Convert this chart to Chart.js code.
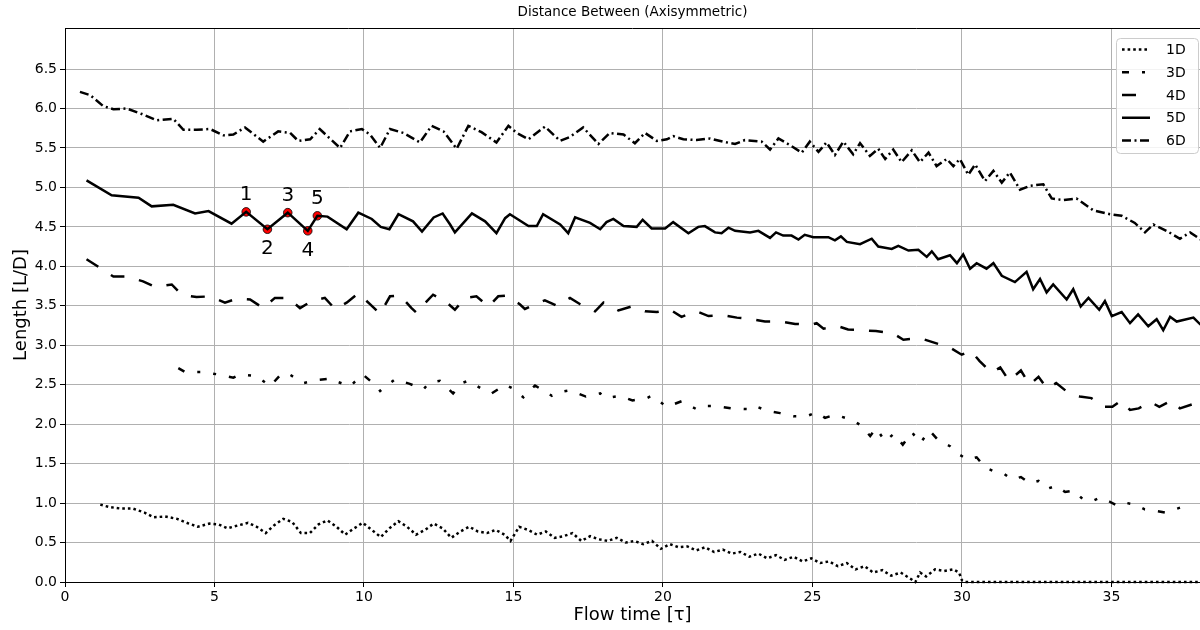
<!DOCTYPE html>
<html><head><meta charset="utf-8">
<script src="https://cdn.jsdelivr.net/npm/chart.js@4.4.1/dist/chart.umd.min.js"></script>
<style>html,body{margin:0;padding:0;background:#fff;overflow:hidden}canvas{display:block}</style>
</head><body>
<canvas id="c" width="1200" height="630"></canvas>
<script>
// ---------- data (time [tau], length [L/D]) ----------
const seriesLabels = ['1D', '3D', '4D', '5D', '6D'];
const xTicks = [0, 5, 10, 15, 20, 25, 30, 35];
const yTicks = [0, 0.5, 1, 1.5, 2, 2.5, 3, 3.5, 4, 4.5, 5, 5.5, 6, 6.5];

const d1D = [[1.18,0.98],[1.48,0.95],[1.87,0.93],[2.27,0.93],[2.66,0.88],[2.96,0.82],[3.35,0.83],[3.75,0.80],[4.14,0.74],[4.44,0.70],[4.83,0.74],[5.13,0.73],[5.43,0.68],[5.82,0.72],[6.12,0.75],[6.41,0.70],[6.71,0.62],[7.0,0.72],[7.30,0.80],[7.60,0.76],[7.89,0.62],[8.19,0.62],[8.48,0.73],[8.78,0.78],[9.08,0.70],[9.37,0.60],[9.67,0.68],[9.96,0.75],[10.26,0.66],[10.56,0.57],[10.85,0.68],[11.15,0.77],[11.44,0.70],[11.74,0.60],[12.04,0.66],[12.33,0.74],[12.63,0.68],[12.92,0.56],[13.22,0.64],[13.52,0.70],[13.81,0.64],[14.11,0.62],[14.40,0.66],[14.70,0.60],[14.90,0.52],[15.19,0.70],[15.49,0.66],[15.79,0.60],[16.08,0.64],[16.38,0.56],[16.67,0.58],[16.97,0.62],[17.27,0.52],[17.56,0.58],[17.86,0.54],[18.15,0.52],[18.45,0.56],[18.75,0.50],[19.04,0.52],[19.34,0.48],[19.63,0.52],[19.93,0.42],[20.23,0.48],[20.52,0.44],[20.82,0.45],[21.11,0.40],[21.41,0.44],[21.71,0.38],[22.00,0.41],[22.30,0.36],[22.59,0.38],[22.89,0.32],[23.19,0.36],[23.48,0.30],[23.78,0.34],[24.07,0.28],[24.37,0.32],[24.67,0.26],[24.96,0.30],[25.26,0.24],[25.55,0.26],[25.85,0.20],[26.15,0.24],[26.44,0.16],[26.74,0.20],[27.03,0.12],[27.33,0.15],[27.63,0.08],[27.95,0.12],[28.2,0.06],[28.44,0.0],[28.6,0.12],[28.8,0.07],[29.1,0.16],[29.4,0.14],[29.7,0.16],[29.9,0.12],[30.0,0.02],[30.1,0.0],[37.98,0.0]];

const d3D = [[3.79,2.71],[4.02,2.66],[4.57,2.66],[5.13,2.63],[5.63,2.59],[5.85,2.63],[6.41,2.61],[6.86,2.48],[7.24,2.64],[7.47,2.64],[7.97,2.52],[8.42,2.56],[8.92,2.58],[9.09,2.54],[9.53,2.48],[9.96,2.63],[10.42,2.48],[10.54,2.42],[11.04,2.57],[11.53,2.51],[11.99,2.44],[12.16,2.52],[12.54,2.55],[12.98,2.39],[13.27,2.52],[13.49,2.55],[13.93,2.45],[14.27,2.39],[14.72,2.50],[14.94,2.46],[15.33,2.34],[15.72,2.49],[16.28,2.36],[16.45,2.40],[16.89,2.43],[17.42,2.35],[17.90,2.39],[18.07,2.33],[18.56,2.36],[18.98,2.30],[19.46,2.33],[19.62,2.36],[20.13,2.22],[20.62,2.29],[21.12,2.19],[21.35,2.23],[21.79,2.23],[22.30,2.20],[22.91,2.19],[23.08,2.23],[23.47,2.17],[23.92,2.14],[24.36,2.10],[24.80,2.10],[25.14,2.15],[25.42,2.08],[25.75,2.12],[26.09,2.08],[26.34,2.05],[26.64,1.98],[26.93,1.85],[27.13,1.95],[27.43,1.78],[27.72,1.88],[28.02,1.74],[28.32,1.90],[28.61,1.76],[28.91,1.92],[29.20,1.80],[29.60,1.72],[29.89,1.62],[30.19,1.55],[30.49,1.58],[30.78,1.45],[31.08,1.40],[31.37,1.38],[31.67,1.30],[31.97,1.33],[32.26,1.25],[32.56,1.28],[32.85,1.18],[33.15,1.22],[33.45,1.14],[33.74,1.16],[34.04,1.05],[34.33,1.02],[34.63,1.07],[34.93,1.02],[35.22,0.96],[35.52,1.00],[35.81,0.98],[36.11,0.92],[36.51,0.90],[36.80,0.88],[37.20,0.93],[37.59,0.98]];

const d4D = [[0.72,4.09],[1.17,3.98],[1.62,3.87],[2.06,3.87],[2.61,3.81],[3.01,3.74],[3.57,3.77],[3.90,3.64],[4.40,3.61],[4.85,3.62],[5.35,3.54],[5.74,3.59],[6.19,3.58],[6.63,3.47],[7.02,3.60],[7.47,3.60],[7.86,3.47],[8.25,3.56],[8.69,3.60],[9.03,3.46],[9.42,3.54],[9.81,3.66],[10.20,3.52],[10.54,3.40],[10.87,3.62],[11.21,3.63],[11.59,3.47],[11.76,3.41],[11.93,3.49],[12.31,3.64],[12.71,3.56],[13.04,3.45],[13.38,3.60],[13.76,3.62],[14.16,3.49],[14.49,3.62],[14.77,3.63],[15.21,3.52],[15.38,3.46],[15.61,3.50],[16.05,3.57],[16.45,3.50],[16.89,3.60],[17.23,3.52],[17.73,3.43],[18.01,3.54],[18.51,3.44],[18.94,3.49],[19.40,3.43],[19.79,3.42],[20.24,3.45],[20.62,3.36],[21.12,3.43],[21.52,3.37],[22.01,3.38],[22.47,3.35],[22.97,3.33],[23.41,3.30],[23.97,3.30],[24.42,3.27],[24.97,3.26],[25.14,3.28],[25.37,3.21],[25.87,3.24],[26.19,3.20],[26.68,3.19],[27.12,3.18],[27.70,3.15],[28.04,3.07],[28.59,3.09],[29.26,3.01],[29.60,2.97],[29.99,2.88],[30.29,2.93],[30.59,2.80],[30.98,2.65],[31.28,2.72],[31.57,2.55],[31.97,2.68],[32.26,2.50],[32.56,2.60],[32.85,2.45],[33.15,2.52],[33.55,2.40],[33.94,2.35],[34.33,2.33],[34.73,2.22],[35.03,2.22],[35.32,2.30],[35.62,2.18],[35.91,2.20],[36.31,2.28],[36.60,2.22],[37.00,2.30],[37.29,2.20],[37.69,2.25],[37.98,2.20]];

const d5D = [[0.72,5.09],[1.56,4.90],[2.46,4.87],[2.90,4.76],[3.62,4.78],[4.35,4.67],[4.80,4.70],[5.57,4.54],[6.06,4.69],[6.77,4.47],[7.45,4.68],[8.12,4.45],[8.44,4.64],[8.78,4.63],[9.42,4.47],[9.81,4.68],[10.26,4.60],[10.56,4.50],[10.85,4.47],[11.15,4.66],[11.64,4.57],[11.94,4.44],[12.33,4.62],[12.63,4.67],[12.88,4.53],[13.04,4.43],[13.61,4.67],[14.05,4.57],[14.43,4.42],[14.72,4.61],[14.88,4.66],[15.50,4.51],[15.78,4.51],[15.99,4.66],[16.56,4.53],[16.83,4.42],[17.06,4.62],[17.56,4.55],[17.90,4.47],[18.11,4.56],[18.34,4.60],[18.68,4.51],[19.12,4.50],[19.32,4.59],[19.62,4.48],[20.07,4.48],[20.34,4.56],[20.85,4.42],[21.18,4.50],[21.40,4.51],[21.74,4.43],[21.96,4.42],[22.19,4.49],[22.41,4.45],[22.91,4.43],[23.19,4.45],[23.58,4.36],[23.78,4.43],[24.02,4.39],[24.30,4.39],[24.53,4.34],[24.74,4.40],[25.03,4.37],[25.53,4.37],[25.75,4.33],[25.95,4.38],[26.15,4.31],[26.59,4.28],[26.98,4.35],[27.20,4.25],[27.65,4.22],[27.87,4.26],[28.21,4.20],[28.54,4.21],[28.82,4.12],[28.99,4.19],[29.20,4.09],[29.60,4.14],[29.83,4.04],[30.04,4.15],[30.27,3.97],[30.49,4.04],[30.82,3.97],[31.05,4.04],[31.33,3.88],[31.77,3.80],[32.16,3.93],[32.38,3.71],[32.61,3.84],[32.83,3.67],[33.05,3.77],[33.50,3.58],[33.72,3.71],[33.97,3.49],[34.23,3.60],[34.59,3.45],[34.78,3.56],[35.01,3.37],[35.34,3.42],[35.62,3.28],[35.89,3.39],[36.23,3.24],[36.51,3.33],[36.73,3.19],[36.96,3.36],[37.18,3.30],[37.74,3.35],[37.98,3.26]];

const d6D = [[0.50,6.21],[0.84,6.17],[1.28,6.03],[1.62,5.99],[2.06,6.0],[2.57,5.93],[3.07,5.85],[3.62,5.87],[3.96,5.73],[4.40,5.73],[4.85,5.74],[5.30,5.66],[5.63,5.67],[6.02,5.76],[6.63,5.58],[7.13,5.71],[7.53,5.69],[7.80,5.59],[8.20,5.61],[8.52,5.74],[9.20,5.50],[9.53,5.71],[9.93,5.74],[10.20,5.67],[10.54,5.50],[10.87,5.74],[11.32,5.69],[11.87,5.57],[12.26,5.78],[12.66,5.71],[13.10,5.49],[13.49,5.78],[13.93,5.70],[14.43,5.57],[14.83,5.78],[15.11,5.69],[15.50,5.61],[16.05,5.77],[16.56,5.59],[16.89,5.64],[17.33,5.76],[17.84,5.55],[18.22,5.69],[18.68,5.67],[19.06,5.56],[19.40,5.69],[19.79,5.59],[20.13,5.61],[20.34,5.65],[20.68,5.61],[21.12,5.60],[21.57,5.62],[22.00,5.58],[22.41,5.55],[22.74,5.60],[23.30,5.58],[23.58,5.48],[23.86,5.62],[24.27,5.53],[24.64,5.44],[24.91,5.58],[25.20,5.45],[25.47,5.57],[25.75,5.41],[26.03,5.58],[26.36,5.42],[26.59,5.56],[26.92,5.40],[27.20,5.49],[27.43,5.36],[27.70,5.48],[27.98,5.32],[28.32,5.47],[28.59,5.32],[28.88,5.44],[29.15,5.27],[29.49,5.36],[29.71,5.27],[29.93,5.36],[30.21,5.16],[30.44,5.29],[30.77,5.08],[31.05,5.21],[31.33,5.06],[31.60,5.19],[31.94,4.97],[32.27,5.02],[32.72,5.04],[33.00,4.86],[33.39,4.84],[33.83,4.86],[34.39,4.71],[34.95,4.66],[35.34,4.64],[35.78,4.55],[36.12,4.43],[36.40,4.53],[36.84,4.45],[37.29,4.35],[37.63,4.43],[37.98,4.34]];

// marked points on the 5D curve (indices into d5D) and their labels
const markerIndex = [8, 9, 10, 11, 12];
const markerLabels = ['1', '2', '3', '4', '5'];

// ---------- chart ----------
const FONT = '"DejaVu Sans", sans-serif';
Chart.defaults.font.family = FONT;
Chart.defaults.color = '#000';

const toXY = arr => arr.map(p => ({x: p[0], y: p[1]}));
const seriesData = [d1D, d3D, d4D, d5D, d6D];
const dashes = [[2.6, 3], [7, 13, 3, 13, 3, 13], [14, 15], [], [9, 3.5, 2, 3.5]];

const datasets = seriesData.map((d, i) => ({
  label: seriesLabels[i],
  data: toXY(d),
  borderColor: '#000',
  borderWidth: 2.5,
  borderDash: dashes[i],
  borderCapStyle: 'butt',
  borderJoinStyle: 'miter',
  pointRadius: 0,
  tension: 0,
  fill: false,
  clip: 4,
  inLegend: true
}));
datasets.push({
  label: 'markers',
  data: markerIndex.map(k => ({x: d5D[k][0], y: d5D[k][1]})),
  showLine: false,
  pointRadius: 4.3,
  pointHoverRadius: 4.3,
  pointBackgroundColor: '#ff0000',
  pointBorderColor: '#000',
  pointBorderWidth: 0.8,
  inLegend: false,
  clip: false
});

const frameLegendPlugin = {
  id: 'frameLegend',
  afterDatasetsDraw(chart) {
    const {ctx, chartArea: a} = chart;
    ctx.save();
    // top spine
    ctx.strokeStyle = '#000'; ctx.lineWidth = 1;
    ctx.beginPath(); ctx.moveTo(a.left, a.top + 0.5); ctx.lineTo(a.right, a.top + 0.5); ctx.stroke();
    // marker labels
    const meta = chart.getDatasetMeta(5);
    ctx.font = '20px ' + FONT; ctx.fillStyle = '#000';
    ctx.textAlign = 'center'; ctx.textBaseline = 'middle';
    meta.data.forEach((el, i) => {
      const off = (i % 2 === 0) ? -17 : 20;
      ctx.fillText(markerLabels[i], el.x, el.y + off);
    });
    // legend
    const w = 82, h = 115;
    const x0 = a.right - 84, y0 = a.top + 10;
    ctx.fillStyle = 'rgba(255,255,255,0.85)';
    ctx.strokeStyle = '#cccccc'; ctx.lineWidth = 1;
    ctx.beginPath();
    if (ctx.roundRect) ctx.roundRect(x0 + 0.5, y0 + 0.5, w, h, 4); else ctx.rect(x0 + 0.5, y0 + 0.5, w, h);
    ctx.fill(); ctx.stroke();
    ctx.font = '14px ' + FONT; ctx.textAlign = 'left';
    chart.data.datasets.filter(d => d.inLegend).forEach((ds, i) => {
      const y = y0 + 11.5 + i * 22.75;
      ctx.setLineDash(ds.borderDash); ctx.lineCap = 'butt';
      ctx.strokeStyle = ds.borderColor; ctx.lineWidth = ds.borderWidth;
      ctx.beginPath(); ctx.moveTo(x0 + 6, y); ctx.lineTo(x0 + 34, y); ctx.stroke();
      ctx.setLineDash([]);
      ctx.fillStyle = '#000';
      ctx.fillText(ds.label, x0 + 50, y + 1);
    });
    ctx.restore();
  }
};

new Chart(document.getElementById('c'), {
  type: 'line',
  data: {datasets},
  options: {
    responsive: false,
    animation: false,
    devicePixelRatio: 1,
    events: [],
    layout: {autoPadding: false, padding: {left: 0, right: 0, top: 0, bottom: 0}},
    plugins: {
      legend: {display: false},
      tooltip: {enabled: false},
      title: {
        display: true,
        text: 'Distance Between (Axisymmetric)',
        fullSize: false,
        color: '#000',
        font: {size: 13.5, weight: 'normal', family: FONT, lineHeight: 1.2},
        padding: {top: 4.5, bottom: 7.3}
      }
    },
    scales: {
      x: {
        type: 'linear',
        min: 0, max: 37.96,
        afterBuildTicks: s => { s.ticks = xTicks.map(v => ({value: v})); },
        afterFit: s => { s.height = 48; },
        ticks: {font: {size: 14}, color: '#000', padding: 2, maxRotation: 0, autoSkip: false,
                callback: v => String(v)},
        grid: {color: '#b0b0b0', lineWidth: 1, tickLength: 5, tickColor: '#000', drawTicks: true},
        border: {display: true, color: '#000', width: 1},
        title: {display: true, text: 'Flow time [τ]', font: {size: 18, lineHeight: 1.2}, color: '#000', padding: {top: 0, bottom: 4}}
      },
      y: {
        type: 'linear',
        min: 0, max: 7.02,
        afterBuildTicks: s => { s.ticks = yTicks.map(v => ({value: v})); },
        afterFit: s => { s.width = 65; },
        ticks: {font: {size: 14}, color: '#000', padding: 3, autoSkip: false,
                callback: v => Number(v).toFixed(1)},
        grid: {color: '#b0b0b0', lineWidth: 1, tickLength: 5, tickColor: '#000', drawTicks: true},
        border: {display: true, color: '#000', width: 1},
        title: {display: true, text: 'Length [L/D]', font: {size: 18, lineHeight: 1.2}, color: '#000', padding: {top: 11, bottom: 0}}
      }
    }
  },
  plugins: [frameLegendPlugin]
});
</script>
</body></html>
